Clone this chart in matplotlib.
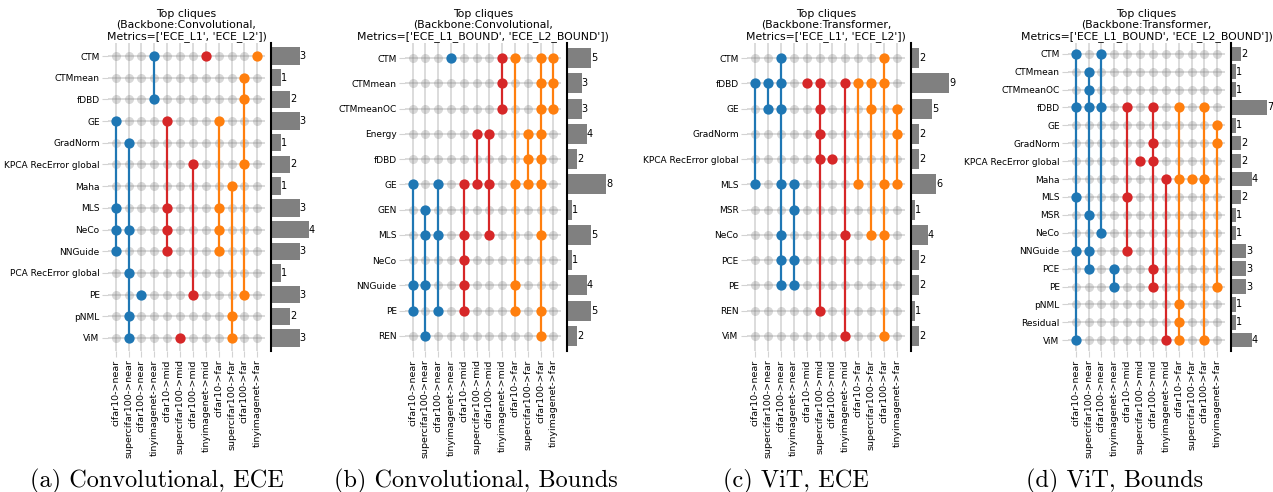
import numpy as np
import matplotlib.pyplot as plt

W, H = 1273, 492

COLUMNS = ['cifar10->near', 'supercifar100->near', 'cifar100->near', 'tinyimagenet->near',
           'cifar10->mid', 'supercifar100->mid', 'cifar100->mid', 'tinyimagenet->mid',
           'cifar10->far', 'supercifar100->far', 'cifar100->far', 'tinyimagenet->far']
COL_COLORS = ['tab:blue'] * 4 + ['tab:red'] * 4 + ['tab:orange'] * 4

# (a) Convolutional, ECE
A_ROWS = ['CTM', 'CTMmean', 'fDBD', 'GE', 'GradNorm', 'KPCA RecError global', 'Maha',
          'MLS', 'NeCo', 'NNGuide', 'PCA RecError global', 'PE', 'pNML', 'ViM']
A_COUNTS = [3, 1, 2, 3, 1, 2, 1, 3, 4, 3, 1, 3, 2, 3]
A_CLIQUES = [
    ['GE', 'MLS', 'NeCo', 'NNGuide'],
    ['GradNorm', 'NeCo', 'PCA RecError global', 'pNML', 'ViM'],
    ['PE'],
    ['CTM', 'fDBD'],
    ['GE', 'MLS', 'NeCo', 'NNGuide'],
    ['ViM'],
    ['KPCA RecError global', 'PE'],
    ['CTM'],
    ['GE', 'MLS', 'NeCo', 'NNGuide'],
    ['Maha', 'pNML', 'ViM'],
    ['CTMmean', 'fDBD', 'KPCA RecError global', 'PE'],
    ['CTM'],
]

# (b) Convolutional, Bounds
B_ROWS = ['CTM', 'CTMmean', 'CTMmeanOC', 'Energy', 'fDBD', 'GE', 'GEN', 'MLS',
          'NeCo', 'NNGuide', 'PE', 'REN']
B_COUNTS = [5, 3, 3, 4, 2, 8, 1, 5, 1, 4, 5, 2]
B_CLIQUES = [
    ['GE', 'NNGuide', 'PE'],
    ['GEN', 'MLS', 'NNGuide', 'REN'],
    ['GE', 'MLS', 'PE'],
    ['CTM'],
    ['GE', 'MLS', 'NeCo', 'NNGuide', 'PE'],
    ['Energy', 'GE'],
    ['Energy', 'GE', 'MLS'],
    ['CTM', 'CTMmean', 'CTMmeanOC'],
    ['CTM', 'GE', 'NNGuide', 'PE'],
    ['Energy', 'fDBD', 'GE'],
    ['CTM', 'CTMmean', 'CTMmeanOC', 'Energy', 'fDBD', 'GE', 'MLS', 'PE', 'REN'],
    ['CTM', 'CTMmean', 'CTMmeanOC'],
]

# (c) ViT, ECE
C_ROWS = ['CTM', 'fDBD', 'GE', 'GradNorm', 'KPCA RecError global', 'MLS', 'MSR',
          'NeCo', 'PCE', 'PE', 'REN', 'ViM']
C_COUNTS = [2, 9, 5, 2, 2, 6, 1, 4, 2, 2, 1, 2]
C_CLIQUES = [
    ['fDBD', 'MLS'],
    ['fDBD', 'GE'],
    ['CTM', 'fDBD', 'GE', 'MLS', 'NeCo', 'PCE', 'PE'],
    ['MLS', 'MSR', 'PCE', 'PE'],
    ['fDBD'],
    ['fDBD', 'GE', 'GradNorm', 'KPCA RecError global', 'REN'],
    ['KPCA RecError global'],
    ['fDBD', 'NeCo', 'ViM'],
    ['fDBD', 'MLS'],
    ['fDBD', 'GE', 'NeCo'],
    ['CTM', 'fDBD', 'MLS', 'NeCo', 'ViM'],
    ['GE', 'GradNorm', 'MLS'],
]

# (d) ViT, Bounds
D_ROWS = ['CTM', 'CTMmean', 'CTMmeanOC', 'fDBD', 'GE', 'GradNorm', 'KPCA RecError global',
          'Maha', 'MLS', 'MSR', 'NeCo', 'NNGuide', 'PCE', 'PE', 'pNML', 'Residual', 'ViM']
D_COUNTS = [2, 1, 1, 7, 1, 2, 2, 4, 2, 1, 1, 3, 3, 3, 1, 1, 4]
D_CLIQUES = [
    ['CTM', 'fDBD', 'MLS', 'NNGuide', 'ViM'],
    ['CTMmean', 'CTMmeanOC', 'fDBD', 'MSR', 'NNGuide', 'PCE'],
    ['CTM', 'fDBD', 'NeCo'],
    ['PCE', 'PE'],
    ['fDBD', 'MLS', 'NNGuide'],
    ['KPCA RecError global'],
    ['fDBD', 'GradNorm', 'KPCA RecError global', 'PCE', 'PE'],
    ['Maha', 'ViM'],
    ['fDBD', 'Maha', 'pNML', 'Residual', 'ViM'],
    ['Maha'],
    ['fDBD', 'Maha', 'ViM'],
    ['GE', 'GradNorm', 'PE'],
]

PANELS = [
    (A_ROWS, A_COUNTS, A_CLIQUES, "Top cliques\n(Backbone:Convolutional,\nMetrics=['ECE_L1', 'ECE_L2'])",
     '(a) Convolutional, ECE', (108, 265, 271, 309), 157),
    (B_ROWS, B_COUNTS, B_CLIQUES, "Top cliques\n(Backbone:Convolutional,\nMetrics=['ECE_L1_BOUND', 'ECE_L2_BOUND'])",
     '(b) Convolutional, Bounds', (405, 561, 567, 606), 476),
    (C_ROWS, C_COUNTS, C_CLIQUES, "Top cliques\n(Backbone:Transformer,\nMetrics=['ECE_L1', 'ECE_L2'])",
     '(c) ViT, ECE', (747, 905, 911, 949), 796),
    (D_ROWS, D_COUNTS, D_CLIQUES, "Top cliques\n(Backbone:Transformer,\nMetrics=['ECE_L1_BOUND', 'ECE_L2_BOUND'])",
     '(d) ViT, Bounds', (1068, 1225, 1231, 1267), 1115),
]

TOP, BOTTOM = 43, 351


def px_rect(x0, y0, x1, y1):
    return [x0 / W, 1 - y1 / H, (x1 - x0) / W, (y1 - y0) / H]


fig = plt.figure(figsize=(W / 100, H / 100), dpi=100)

for rows, counts, cliques, title, caption, (mx0, mx1, bx0, bx1), cap_x in PANELS:
    n = len(rows)
    ax = fig.add_axes(px_rect(mx0, TOP, mx1, BOTTOM))
    axb = fig.add_axes(px_rect(bx0, TOP, bx1, BOTTOM))

    # background grid of lines and dots
    for c in range(len(COLUMNS)):
        ax.axvline(c, color='grey', alpha=0.3, lw=1.3, zorder=1)
    for r in range(n):
        ax.axhline(r, color='grey', alpha=0.3, lw=1.3, zorder=1)
    gx, gy = np.meshgrid(np.arange(len(COLUMNS)), np.arange(n))
    ax.scatter(gx.ravel(), gy.ravel(), s=42, color='grey', alpha=0.3, lw=0, zorder=2)

    # cliques
    for c, members in enumerate(cliques):
        idx = [rows.index(m) for m in members]
        if len(idx) > 1:
            ax.plot([c, c], [min(idx), max(idx)], color=COL_COLORS[c], lw=1.6, zorder=3)
        ax.scatter([c] * len(idx), idx, s=55, color=COL_COLORS[c], lw=0, zorder=4)

    ax.set_xlim(-0.6, len(COLUMNS) - 0.4)
    ax.set_ylim(n - 0.4, -0.6)
    ax.set_xticks(range(len(COLUMNS)))
    ax.set_xticklabels(COLUMNS, rotation=90, fontsize=6.8)
    ax.set_yticks(range(n))
    ax.set_yticklabels(rows, fontsize=6.5)
    ax.tick_params(axis='both', color='lightgrey', length=4, pad=2)
    for s in ax.spines.values():
        s.set_visible(False)
    ax.set_title(title, fontsize=7.8, pad=3, linespacing=1.12)

    # bar counts
    axb.barh(range(n), counts, height=0.8, color='grey')
    for i, v in enumerate(counts):
        axb.text(v, i, str(v), va='center', ha='left', fontsize=7)
    axb.set_xlim(0, max(counts))
    axb.set_ylim(n - 0.4, -0.6)
    axb.set_xticks([])
    axb.set_yticks([])
    for k, s in axb.spines.items():
        s.set_visible(k == 'left')
    axb.spines['left'].set_linewidth(1.5)

    fig.text(cap_x / W, 1 - 481 / H, caption, ha='center', va='center',
             fontsize=17.5, family=['cmr10', 'DejaVu Serif'])

fig.savefig('out.png', dpi=100)
